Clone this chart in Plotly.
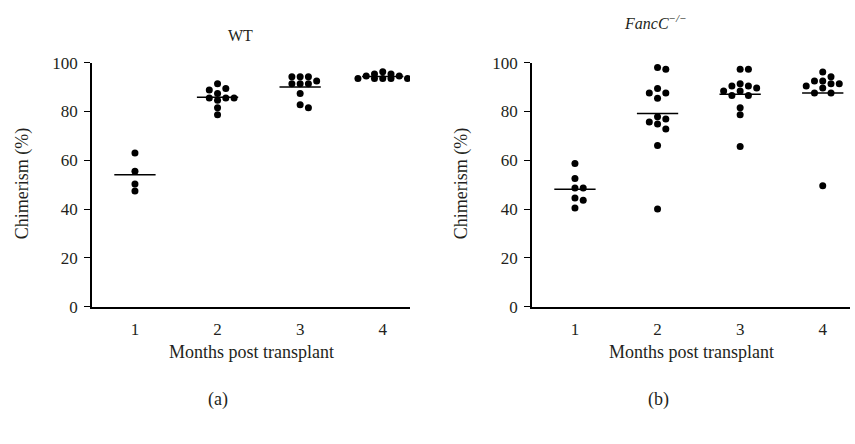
import plotly.graph_objects as go

# ---------------- data ----------------
months = [1, 2, 3, 4]
tick_labels = ["1", "2", "3", "4"]
y_ticks = [0, 20, 40, 60, 80, 100]

wt_m1 = [63.0, 55.5, 50.3, 47.4]
wt_m2 = [91.3, 89.4, 88.8, 87.3, 85.5, 85.5, 85.5, 84.6, 81.5, 78.6]
wt_m3 = [94.2, 94.2, 94.2, 92.5, 91.3, 91.3, 91.3, 87.3, 82.7, 81.5]
wt_m4 = [96.3, 95.3, 95.3, 94.5, 94.5, 93.5, 93.5, 93.5, 93.5, 93.5]

fa_m1 = [58.7, 52.5, 48.6, 48.6, 44.5, 43.6, 40.4]
fa_m2 = [98.0, 97.3, 89.4, 87.5, 87.5, 85.4, 77.8, 76.9, 75.7, 74.8, 72.8, 66.0, 40.0]
fa_m3 = [97.3, 97.3, 91.3, 90.4, 90.4, 89.6, 88.4, 88.4, 86.5, 86.5, 81.5, 78.6, 65.6]
fa_m4 = [96.2, 94.2, 92.5, 92.5, 91.3, 91.3, 90.4, 89.6, 87.5, 87.5, 49.5]

wt_groups = [wt_m1, wt_m2, wt_m3, wt_m4]
fa_groups = [fa_m1, fa_m2, fa_m3, fa_m4]

# ---------------- layout params ----------------
SLOT = 0.1          # horizontal step between dodged points (x units)
THRESH = 2.6        # vertical collision distance (y units)
HALF = 0.25         # half width of mean line
FONT = "Liberation Serif"
TXT = "#231f20"


def swarm(values):
    order = [0, 1, -1, 2, -2, 3, -3]
    placed = []
    slots = []
    for v in values:
        chosen = None
        best, best_d = None, -1
        for s in order:
            ds = [abs(v - pv) for ps, pv in placed if ps == s]
            d = min(ds) if ds else 1e9
            if d >= THRESH:
                chosen = s
                break
            if d > best_d and abs(s) <= 2:
                best, best_d = s, d
        if chosen is None:
            chosen = best
        placed.append((chosen, v))
        slots.append(chosen)
    return slots


fig = go.Figure()


def add_panel(groups, xa, ya):
    for m, vals in zip(months, groups):
        sl = swarm(vals)
        fig.add_trace(go.Scatter(
            x=[m + s * SLOT for s in sl], y=vals, mode="markers",
            marker=dict(color="black", size=7), xaxis=xa, yaxis=ya,
            showlegend=False, hoverinfo="y"))
        mean = sum(vals) / len(vals)
        fig.add_trace(go.Scatter(
            x=[m - HALF, m + HALF], y=[mean, mean], mode="lines",
            line=dict(color="black", width=1.5), xaxis=xa, yaxis=ya,
            showlegend=False, hoverinfo="skip"))


add_panel(wt_groups, "x", "y")
add_panel(fa_groups, "x2", "y2")

W, H = 855, 444
ybot, ytop = 1 - 311 / H, 1 - 56 / H

xcommon = dict(range=[0.48, 4.33], tickvals=months, ticktext=tick_labels,
               ticks="", showline=True, linecolor="black", linewidth=1.5,
               showgrid=False, zeroline=False, ticklabelstandoff=6,
               tickfont=dict(family=FONT, size=17, color=TXT))
ycommon = dict(range=[0, 100], tickvals=y_ticks, ticks="outside", ticklen=6,
               tickwidth=1.2, tickcolor="black", showline=True,
               linecolor="black", linewidth=1.5, showgrid=False,
               zeroline=False, ticklabelstandoff=3,
               tickfont=dict(family=FONT, size=17, color=TXT))

fig.update_layout(
    width=W, height=H, margin=dict(l=0, r=0, t=0, b=0),
    plot_bgcolor="white", paper_bgcolor="white",
    xaxis=dict(domain=[92 / W, 410 / W], anchor="y", **xcommon),
    yaxis=dict(domain=[ybot, ytop], anchor="x", **ycommon),
    xaxis2=dict(domain=[532 / W, 850 / W], anchor="y2", **xcommon),
    yaxis2=dict(domain=[ybot, ytop], anchor="x2", **ycommon),
)

tf = dict(family=FONT, size=18, color=TXT)
ann = [
    dict(text="WT", x=240 / W, y=1 - 28 / H, font=dict(family=FONT, size=16, color=TXT)),
    dict(text="<i>FancC<sup>−/−</sup></i>", x=655 / W, y=1 - 14 / H,
         font=dict(family=FONT, size=16, color=TXT)),
    dict(text="Months post transplant", x=251 / W, y=1 - 358 / H, font=tf),
    dict(text="Months post transplant", x=691 / W, y=1 - 358 / H, font=tf),
    dict(text="(a)", x=218 / W, y=1 - 408 / H, font=tf),
    dict(text="(b)", x=658 / W, y=1 - 408 / H, font=tf),
    dict(text="Chimerism (%)", x=22 / W, y=1 - 183 / H, textangle=-90, font=tf),
    dict(text="Chimerism (%)", x=461 / W, y=1 - 183 / H, textangle=-90, font=tf),
]
for a in ann:
    fig.add_annotation(xref="paper", yref="paper", showarrow=False,
                       xanchor="center", yanchor="middle", **a)

fig.write_html("out.html")
